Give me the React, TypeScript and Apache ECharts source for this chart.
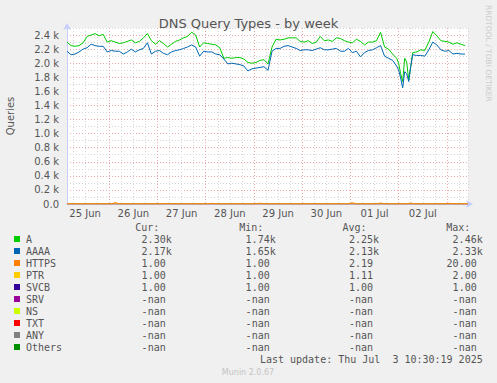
import React, { useEffect, useRef } from 'react';
import * as echarts from 'echarts';

// Hours since 25 Jun 00:00
const hours = [
  3, 5, 7, 9, 11, 13, 15, 17, 19, 21,
  23, 25, 27, 29, 31, 33, 35, 37, 39, 41,
  43, 45, 47, 49, 51, 53, 55, 57, 59, 61,
  63, 65, 67, 69, 71, 73, 75, 77, 79, 81,
  83, 85, 87, 89, 91, 93, 95, 97, 99, 101,
  103, 105, 107, 109, 111, 113, 115, 117, 119, 121,
  123, 125, 127, 129, 131, 133, 135, 137, 139, 141,
  143, 145, 147, 149, 151, 153, 155, 157, 159, 161,
  163, 165, 167,
  168, 169, 170, 171, 172, 173, 174,
  175, 177, 179, 181, 183, 185, 187, 189, 191, 193, 195, 197, 199, 201,
];

// A queries (thousands)
const aValues = [
  2.30, 2.25, 2.24, 2.25, 2.29, 2.38, 2.40, 2.42, 2.39, 2.41,
  2.30, 2.32, 2.30, 2.28, 2.29, 2.31, 2.33, 2.29, 2.31, 2.36,
  2.42, 2.32, 2.27, 2.32, 2.28, 2.23, 2.27, 2.31, 2.33, 2.36,
  2.38, 2.44, 2.40, 2.23, 2.29, 2.28, 2.27, 2.26, 2.22, 2.07,
  2.08, 2.07, 2.08, 2.08, 2.06, 2.01, 2.00, 2.01, 2.04, 2.05,
  1.99, 2.23, 2.34, 2.33, 2.34, 2.36, 2.36, 2.36, 2.31, 2.30,
  2.32, 2.28, 2.30, 2.38, 2.32, 2.33, 2.31, 2.36, 2.35, 2.32,
  2.30, 2.29, 2.34, 2.31, 2.26, 2.30, 2.30, 2.32, 2.44, 2.23,
  2.20, 2.13, 2.07,
  2.00, 1.85, 1.74, 2.07, 2.02, 1.76, 1.95,
  2.15, 2.16, 2.19, 2.18, 2.30, 2.45, 2.39, 2.32, 2.31, 2.30, 2.27, 2.29, 2.27, 2.25,
];

// AAAA queries (thousands)
const aaaaValues = [
  2.17, 2.12, 2.13, 2.16, 2.20, 2.22, 2.27, 2.25, 2.24, 2.24,
  2.16, 2.18, 2.17, 2.17, 2.13, 2.16, 2.20, 2.16, 2.19, 2.21,
  2.29, 2.13, 2.17, 2.18, 2.14, 2.12, 2.16, 2.18, 2.19, 2.21,
  2.23, 2.26, 2.23, 2.10, 2.17, 2.16, 2.16, 2.13, 2.12, 2.06,
  1.99, 2.00, 1.99, 1.98, 1.96, 1.89, 1.92, 1.93, 1.94, 1.95,
  1.90, 2.17, 2.21, 2.21, 2.24, 2.25, 2.23, 2.21, 2.18, 2.19,
  2.19, 2.18, 2.20, 2.22, 2.19, 2.19, 2.20, 2.21, 2.17, 2.17,
  2.21, 2.15, 2.17, 2.09, 2.15, 2.18, 2.19, 2.22, 2.25, 2.10,
  2.07, 2.04, 1.96,
  1.90, 1.79, 1.65, 1.88, 1.85, 1.74, 1.95,
  2.12, 2.11, 2.11, 2.10, 2.19, 2.30, 2.26, 2.19, 2.17, 2.18, 2.13, 2.14, 2.13, 2.13,
];

const httpsHours = [3, 25, 27, 29, 51, 53, 55, 73, 75, 77, 97, 99, 101, 123, 125, 127, 143, 145, 147, 157, 159, 161, 172, 174, 176, 191, 193, 195, 202.5];
const httpsValues = [1, 1, 20, 1, 1, 8, 1, 1, 10, 1, 1, 12, 1, 1, 6, 1, 1, 18, 1, 1, 15, 1, 1, 14, 1, 1, 10, 1, 1];
const ptrHours = [3, 60, 61, 62, 140, 141, 142, 202.5];
const ptrValues = [1, 1, 2, 1, 1, 2, 1, 1];
const svcbHours = [3, 202.5];
const svcbValues = [1, 1];

const dayLabels = ['25 Jun', '26 Jun', '27 Jun', '28 Jun', '29 Jun', '30 Jun', '01 Jul', '02 Jul'];

const legendNames = ['A', 'AAAA', 'HTTPS', 'PTR', 'SVCB', 'SRV', 'NS', 'TXT', 'ANY', 'Others'];
const legendColors = ['#00cc00', '#0066b3', '#ff8000', '#ffcc00', '#330099', '#990099', '#ccff00', '#ff0000', '#808080', '#008f00'];
const curVals = ['2.30k', '2.17k', '1.00', '1.00', '1.00', '-nan', '-nan', '-nan', '-nan', '-nan'];
const minVals = ['1.74k', '1.65k', '1.00', '1.00', '1.00', '-nan', '-nan', '-nan', '-nan', '-nan'];
const avgVals = ['2.25k', '2.13k', '2.19', '1.11', '1.00', '-nan', '-nan', '-nan', '-nan', '-nan'];
const maxVals = ['2.46k', '2.33k', '20.00', '2.00', '1.00', '-nan', '-nan', '-nan', '-nan', '-nan'];
const headers = ['Cur:', 'Min:', 'Avg:', 'Max:'];

const MINOR = '#d6d6d6';
const MAJOR = '#eaa8a8';
const NONE = 'rgba(0,0,0,0)';
const TXT = '#555';
const MONO = 'DejaVu Sans Mono';

export default function App() {
  const ref = useRef<HTMLDivElement>(null);
  useEffect(() => {
    if (!ref.current) return;
    const chart = echarts.init(ref.current, undefined, { renderer: 'svg' });

    const pairs = (xs: number[], ys: number[], k = 1) => xs.map((x, i) => [x, ys[i] * k]);

    const colRights = [171.7, 275.7, 379, 482.7];
    const cols = [curVals, minVals, avgVals, maxVals];
    const graphics: any[] = [];
    headers.forEach((h, j) => {
      graphics.push({ type: 'text', x: colRights[j] - 12.4, y: 227.5, style: { text: h, fill: TXT, font: `10px "${MONO}"`, textAlign: 'right', textVerticalAlign: 'middle' } });
    });
    legendNames.forEach((name, i) => {
      const y = 239 + 12 * i;
      graphics.push({ type: 'rect', shape: { x: 14, y: y - 3, width: 6, height: 6 }, style: { fill: legendColors[i] } });
      graphics.push({ type: 'text', x: 26, y, style: { text: name, fill: TXT, font: `10px "${MONO}"`, textVerticalAlign: 'middle' } });
      cols.forEach((col, j) => {
        const v = col[i];
        const right = v.endsWith('k') ? colRights[j] : colRights[j] - 6;
        graphics.push({ type: 'text', x: right, y, style: { text: v, fill: TXT, font: `10px "${MONO}"`, textAlign: 'right', textVerticalAlign: 'middle' } });
      });
    });
    graphics.push({ type: 'text', x: 482.7, y: 359.3, style: { text: 'Last update: Thu Jul  3 10:30:19 2025', fill: TXT, font: `10px "${MONO}"`, textAlign: 'right', textVerticalAlign: 'middle' } });
    graphics.push({ type: 'text', x: 248, y: 372, style: { text: 'Munin 2.0.67', fill: '#c4c4c4', font: '8px "DejaVu Sans"', textAlign: 'center', textVerticalAlign: 'middle' } });
    graphics.push({ type: 'text', x: 488, y: 5, rotation: -Math.PI / 2, style: { text: 'RRDTOOL / TOBI OETIKER', fill: '#cccccc', font: '7.5px "DejaVu Sans"', textAlign: 'left', textVerticalAlign: 'middle' } });

    const xColors = [NONE, MINOR, NONE, MINOR, NONE, MINOR, NONE, MAJOR];

    const lineSeries = (name: string, data: number[][], color: string, z: number) => ({
      name, type: 'line', data, showSymbol: false, symbol: 'none', z,
      lineStyle: { color, width: 1 }, itemStyle: { color },
    });

    chart.setOption({
      animation: false,
      backgroundColor: '#f0f0f0',
      textStyle: { fontFamily: 'DejaVu Sans' },
      title: {
        text: 'DNS Query Types - by week', left: 'center', top: 12,
        textStyle: { fontSize: 13, fontWeight: 'normal', color: TXT, fontFamily: 'DejaVu Sans' },
      },
      grid: { left: 67, top: 28, width: 401, height: 176, show: true, backgroundColor: '#ffffff', borderWidth: 0, containLabel: false, outerBoundsMode: 'none' },
      xAxis: {
        type: 'value', min: 3, max: 202.5, interval: 3,
        axisLine: { show: true, lineStyle: { color: '#c8ceff', width: 1 }, symbol: ['none', 'arrow'], symbolSize: [6, 7], symbolOffset: [0, 5] },
        axisTick: { show: false },
        axisLabel: {
          color: TXT, fontSize: 10, margin: 4, fontFamily: 'DejaVu Sans',
          formatter: (v: number) => {
            const r = Math.round(v);
            if (Math.abs(v - r) > 1e-6 || r % 24 !== 12) return '';
            return dayLabels[(r - 12) / 24] ?? '';
          },
        },
        splitLine: { show: true, lineStyle: { color: xColors, type: [1, 2], width: 1 } },
      },
      yAxis: {
        type: 'value', min: 0, max: 2500, interval: 100,
        name: 'Queries', nameLocation: 'middle', nameGap: 52, nameRotate: 90,
        nameTextStyle: { color: TXT, fontSize: 10, fontFamily: 'DejaVu Sans' },
        axisLine: { show: true, lineStyle: { color: '#c8ceff', width: 1 }, symbol: ['none', 'arrow'], symbolSize: [6, 7], symbolOffset: [0, 5] },
        axisTick: { show: false },
        axisLabel: {
          color: TXT, fontSize: 10, margin: 8, fontFamily: 'DejaVu Sans',
          formatter: (v: number) => {
            const r = Math.round(v);
            if (r % 200 !== 0) return '';
            return r === 0 ? '0.0' : (r / 1000).toFixed(1) + ' k';
          },
        },
        splitLine: { show: true, lineStyle: { color: [MAJOR, MINOR], type: [1, 2], width: 1 } },
      },
      series: [
        lineSeries('A', pairs(hours, aValues, 1000), legendColors[0], 2),
        lineSeries('AAAA', pairs(hours, aaaaValues, 1000), legendColors[1], 3),
        lineSeries('SVCB', pairs(svcbHours, svcbValues), legendColors[4], 4),
        lineSeries('PTR', pairs(ptrHours, ptrValues), legendColors[3], 5),
        lineSeries('HTTPS', pairs(httpsHours, httpsValues), legendColors[2], 6),
      ],
      graphic: graphics,
    });
    return () => chart.dispose();
  }, []);
  return <div ref={ref} style={{ position: 'absolute', left: 0, top: 0, width: 497, height: 383 }} />;
}
